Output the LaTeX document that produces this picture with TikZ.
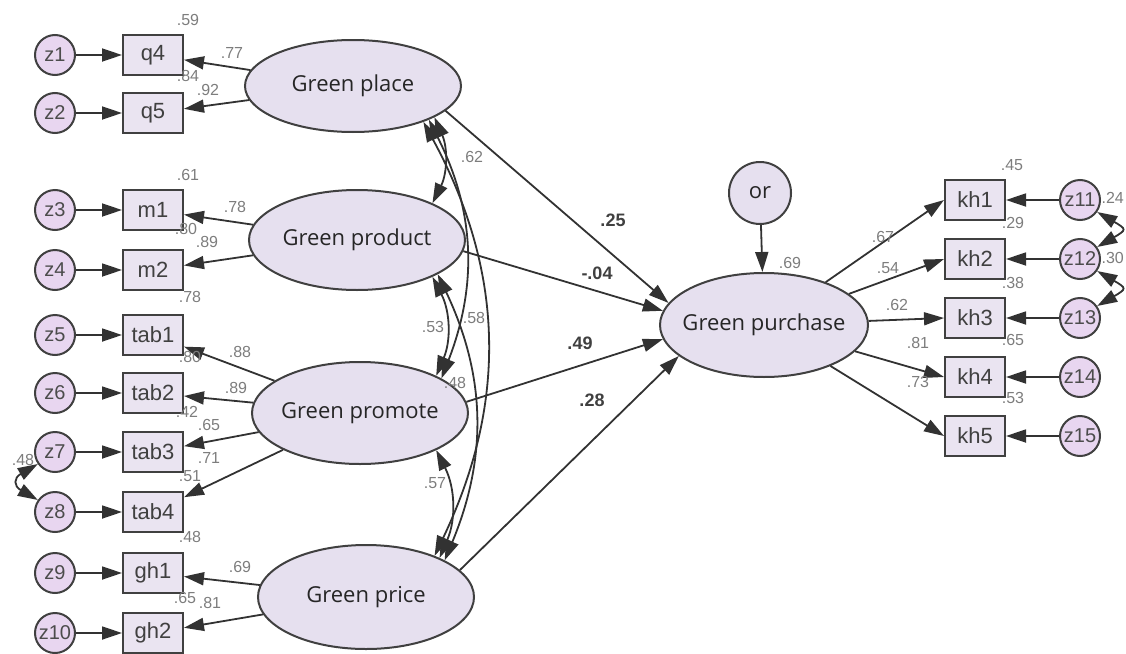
\documentclass[tikz,border=0pt]{standalone}
\usepackage{fontspec}
\setmainfont{Liberation Sans}
\newfontfamily\latfont{Open Sans}
\usetikzlibrary{shapes.geometric, positioning, arrows.meta}
\definecolor{latfill}{RGB}{230,224,239}
\definecolor{obsfill}{RGB}{234,228,241}
\definecolor{errfill}{RGB}{232,214,240}
\definecolor{edgecol}{RGB}{64,64,64}
\definecolor{linecol}{RGB}{50,50,50}
\definecolor{numgray}{RGB}{125,125,125}

\begin{document}
\begin{tikzpicture}[x=1pt, y=-1pt,
	latent/.style={ellipse, draw=edgecol, line width=2pt, fill=latfill, minimum width=216pt, minimum height=98pt, inner xsep=-30pt, inner ysep=0pt, font=\latfont\fontsize{22}{24}\selectfont, text=black!85},
	obs/.style={rectangle, draw=edgecol, line width=2pt, fill=obsfill, minimum width=60pt, minimum height=40pt, inner sep=0pt, font=\fontsize{22}{24}\selectfont, text=black!75},
	err/.style={circle, draw=edgecol, line width=2pt, fill=errfill, minimum size=40pt, inner sep=0pt, font=\fontsize{20}{22}\selectfont, text=black!70},
	reg/.style={-{Triangle[length=20pt,width=13pt]}, line width=1.8pt, draw=linecol},
	cov/.style={{Triangle[length=20pt,width=13pt]}-{Triangle[length=20pt,width=13pt]}, line width=1.8pt, draw=linecol},
	est/.style={font=\fontsize{16}{18}\selectfont, text=numgray, inner sep=0pt},
	coef/.style={font=\bfseries\fontsize{18}{20}\selectfont, text=black!75, inner sep=0pt}]
	\useasboundingbox (0,0) rectangle (1126,653);

	% latent variables
	\node (gplace) [latent, minimum height=92pt] at (353,86) {Green place};
	\node (gprod) [latent, minimum height=100pt] at (357,240) {Green product};
	\node (gpromo) [latent, minimum height=102pt] at (360,413) {Green promote};
	\node (gprice) [latent, minimum height=104pt] at (366,597) {Green price};
	\node (gpurch) [latent, minimum width=208pt, minimum height=104pt] at (764,325) {Green purchase};
	\node (or) [err, minimum size=62pt, fill=latfill, font=\latfont\fontsize{22}{24}\selectfont, text=black!85] at (760,193) {or};

	% indicators, left
	\node (q4) [obs] at (153,55) {q4};
	\node (q5) [obs] at (153,113) {q5};
	\node (m1) [obs] at (153,210) {m1};
	\node (m2) [obs] at (153,270) {m2};
	\node (tab1) [obs] at (153,335) {tab1};
	\node (tab2) [obs] at (153,393) {tab2};
	\node (tab3) [obs] at (153,452) {tab3};
	\node (tab4) [obs] at (153,512) {tab4};
	\node (gh1) [obs] at (153,573) {gh1};
	\node (gh2) [obs] at (153,633) {gh2};
	\node (z1) [err, left=46pt of q4] {z1};
	\node (z2) [err, left=46pt of q5] {z2};
	\node (z3) [err, left=46pt of m1] {z3};
	\node (z4) [err, left=46pt of m2] {z4};
	\node (z5) [err, left=46pt of tab1] {z5};
	\node (z6) [err, left=46pt of tab2] {z6};
	\node (z7) [err, left=46pt of tab3] {z7};
	\node (z8) [err, left=46pt of tab4] {z8};
	\node (z9) [err, left=46pt of gh1] {z9};
	\node (z10) [err, left=46pt of gh2] {z10};

	% indicators, right
	\node (kh1) [obs] at (975,200) {kh1};
	\node (kh2) [obs] at (975,259) {kh2};
	\node (kh3) [obs] at (975,318) {kh3};
	\node (kh4) [obs] at (975,377) {kh4};
	\node (kh5) [obs] at (975,436) {kh5};
	\node (z11) [err, right=53pt of kh1] {z11};
	\node (z12) [err, right=53pt of kh2] {z12};
	\node (z13) [err, right=53pt of kh3] {z13};
	\node (z14) [err, right=53pt of kh4] {z14};
	\node (z15) [err, right=53pt of kh5] {z15};

	% errors into indicators
	\draw [reg] (z1) -- (q4);
	\draw [reg] (z2) -- (q5);
	\draw [reg] (z3) -- (m1);
	\draw [reg] (z4) -- (m2);
	\draw [reg] (z5) -- (tab1);
	\draw [reg] (z6) -- (tab2);
	\draw [reg] (z7) -- (tab3);
	\draw [reg] (z8) -- (tab4);
	\draw [reg] (z9) -- (gh1);
	\draw [reg] (z10) -- (gh2);
	\draw [reg] (z11) -- (kh1);
	\draw [reg] (z12) -- (kh2);
	\draw [reg] (z13) -- (kh3);
	\draw [reg] (z14) -- (kh4);
	\draw [reg] (z15) -- (kh5);

	% loadings
	\draw [reg] (gplace) -- (q4);
	\draw [reg] (gplace) -- (q5);
	\draw [reg] (gprod) -- (m1);
	\draw [reg] (gprod) -- (m2);
	\draw [reg] (gpromo) -- (tab1);
	\draw [reg] (gpromo) -- (tab2);
	\draw [reg] (gpromo) -- (tab3);
	\draw [reg] (gpromo) -- (tab4);
	\draw [reg] (gprice) -- (gh1);
	\draw [reg] (gprice) -- (gh2);
	\draw [reg] (gpurch) -- (kh1.west);
	\draw [reg] (gpurch) -- (kh2.west);
	\draw [reg] (gpurch) -- (kh3.west);
	\draw [reg] (gpurch) -- (kh4.west);
	\draw [reg] (gpurch) -- (kh5.west);
	\draw [reg] (or) -- (gpurch);

	% structural paths
	\draw [reg] (gplace.-15) -- (gpurch.167);
	\draw [reg] (gprod.-6) -- (gpurch.172);
	\draw [reg] (gpromo.6) -- (gpurch.-172);
	\draw [reg] (gprice.16) -- (gpurch.-160);

	% covariances
	\draw [cov] (gplace.-21) to[bend left=25] (gprod.26);
	\draw [cov] (gprod.-26) to[bend left=25] (gpromo.26);
	\draw [cov] (gpromo.-26) to[bend left=25] (gprice.28);
	\draw [cov] (gplace.-24) to[bend left=24] (gpromo.23);
	\draw [cov] (gprod.-23) to[bend left=24] (gprice.25);
	\draw [cov] (gplace.-27) to[bend left=27] (gprice.31);
	\draw [cov] (z7.215) to[bend right=60, looseness=2] (z8.145);
	\draw [cov] (z11.-35) to[bend left=60, looseness=2.5] (z12.35);
	\draw [cov] (z12.-35) to[bend left=60, looseness=2.5] (z13.35);

	% estimates
	\node (r2q4) [est] at (188,20) {.59};
	\node (ldq4) [est] at (232,53) {.77};
	\node (r2q5) [est] at (188,76) {.84};
	\node (ldq5) [est] at (208,90) {.92};
	\node (r2m1) [est] at (188,175) {.61};
	\node (ldm1) [est] at (235,207) {.78};
	\node (r2m2) [est] at (186,229) {.80};
	\node (ldm2) [est] at (207,242) {.89};
	\node (r2tab1) [est] at (190,297) {.78};
	\node (ldtab1) [est] at (240,352) {.88};
	\node (r2tab2) [est] at (190,357) {.80};
	\node (ldtab2) [est] at (236,388) {.89};
	\node (r2tab3) [est] at (187,412) {.42};
	\node (ldtab3) [est] at (209,425) {.65};
	\node (ldtab4) [est] at (209,458) {.71};
	\node (r2tab4) [est] at (190,476) {.51};
	\node (cz78) [est] at (23,460) {.48};
	\node (r2gh1) [est] at (190,537) {.48};
	\node (ldgh1) [est] at (240,567) {.69};
	\node (r2gh2) [est] at (185,598) {.65};
	\node (ldgh2) [est] at (210,603) {.81};
	\node (cplpr) [est] at (472,157) {.62};
	\node (cprpm) [est] at (433,327) {.53};
	\node (cplpc) [est] at (474,318) {.58};
	\node (cprpc) [est] at (455,383) {.48};
	\node (cpmpc) [est] at (435,483) {.57};
	\node (r2pur) [est] at (790,263) {.69};
	\node (ldkh1) [est] at (883,237) {.67};
	\node (ldkh2) [est] at (888,268) {.54};
	\node (ldkh3) [est] at (897,305) {.62};
	\node (ldkh4) [est] at (918,343) {.81};
	\node (ldkh5) [est] at (918,382) {.73};
	\node (r2kh1) [est] at (1012,165) {.45};
	\node (r2kh2) [est] at (1013,223) {.29};
	\node (r2kh3) [est] at (1013,283) {.38};
	\node (r2kh4) [est] at (1013,340) {.65};
	\node (r2kh5) [est] at (1013,398) {.53};
	\node (cz1112) [est, anchor=east] at (1124,198) {.24};
	\node (cz1213) [est, anchor=east] at (1124,258) {.30};
	\node (bplace) [coef] at (613,220) {.25};
	\node (bprod) [coef] at (597,273) {-.04};
	\node (bpromo) [coef] at (580,343) {.49};
	\node (bprice) [coef] at (592,400) {.28};
\end{tikzpicture}
\end{document}
